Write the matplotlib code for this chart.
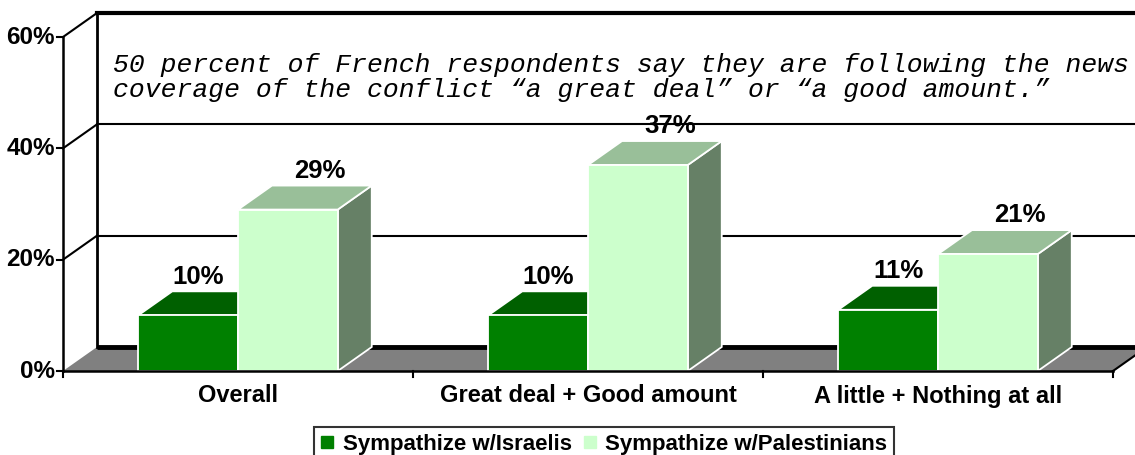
import matplotlib
matplotlib.use("Agg")
from matplotlib import pyplot as plt
from matplotlib.patches import Polygon
from matplotlib.lines import Line2D

# data
categories = ["Overall", "Great deal + Good amount", "A little + Nothing at all"]
israelis = [10, 10, 11]
palestinians = [29, 37, 21]
series_names = ["Sympathize w/Israelis", "Sympathize w/Palestinians"]
yticks = [0, 20, 40, 60]
tick_labels = ["0%", "20%", "40%", "60%"]
note_lines = ["50 percent of French respondents say they are following the news",
              "coverage of the conflict \u201ca great deal\u201d or \u201ca good amount.\u201d"]

# colours: front, top, side
col_isr = ["#008000", "#006000", "#004d00"]
col_pal = ["#ccffcc", "#99bf99", "#668066"]

W, H = 1135, 455
fig = plt.figure(figsize=(W / 100, H / 100), dpi=100)
ax = fig.add_axes([0, 0, 1, 1])

# one category = 350 px, one percent = 334/60 px, front axis origin at (63, 371) px
px_cat = 350.0
px_pct = 334.0 / 60
ax.set_xlim(-63 / px_cat, (W - 63) / px_cat)
ax.set_ylim(-(H - 371) / px_pct, 371 / px_pct)
ax.axis("off")

# depth of the 3D box in data units
dx = 34 / px_cat
dy = 24 / px_pct
ncat = len(categories)
xend = ncat + 0.5

# floor
ax.add_patch(Polygon([(0, 0), (ncat, 0), (ncat + dx, dy), (dx, dy)],
                     closed=True, facecolor="#808080", edgecolor="none", zorder=1))
ax.plot([dx, ncat + dx], [dy, dy], color="black", lw=3.5, zorder=2, solid_capstyle="butt")
ax.plot([ncat, ncat + dx], [0, dy], color="black", lw=1.5, zorder=2)

# back wall, grid lines and left wall diagonals
ax.plot([dx, dx], [dy, 60 + dy], color="black", lw=2, zorder=2)
ax.plot([dx, xend], [60 + dy, 60 + dy], color="black", lw=3, zorder=2)
for v in yticks[1:]:
    ax.plot([0, dx], [v, v + dy], color="black", lw=1.5, zorder=2)
    if v < 60:
        ax.plot([dx, xend], [v + dy, v + dy], color="black", lw=1.5, zorder=2)

# front axes
ax.plot([0, 0], [0, 60], color="black", lw=1.8, zorder=5)
ax.plot([0, ncat], [0, 0], color="black", lw=1.8, zorder=5)
for v, lab in zip(yticks, tick_labels):
    ax.plot([-6 / px_cat, 0], [v, v], color="black", lw=1.5, zorder=5)
    ax.text(-8 / px_cat, v, lab, ha="right", va="center", fontsize=17.5,
            fontweight="bold", family="Liberation Sans")
for i in range(ncat + 1):
    ax.plot([i, i], [0, -6 / px_pct], color="black", lw=1.5, zorder=5)
for i, c in enumerate(categories):
    ax.text(i + 0.5, -25 / px_pct, c, ha="center", va="center", fontsize=17,
            fontweight="bold", family="Liberation Sans")


def bar3d(x0, x1, h, cols):
    side = [(x1, 0), (x1 + dx, dy), (x1 + dx, h + dy), (x1, h)]
    top = [(x0, h), (x1, h), (x1 + dx, h + dy), (x0 + dx, h + dy)]
    front = [(x0, 0), (x1, 0), (x1, h), (x0, h)]
    for pts, c in [(side, cols[2]), (top, cols[1]), (front, cols[0])]:
        ax.add_patch(Polygon(pts, closed=True, facecolor=c, edgecolor="white",
                             lw=1.3, joinstyle="miter", zorder=3))


bw = 0.285
for i in range(ncat):
    xa = i + 0.215
    xb = xa + bw
    bar3d(xa, xb, israelis[i], col_isr)
    bar3d(xb, xb + bw, palestinians[i], col_pal)
    ax.text(xa + bw / 2 + 0.3 * dx, israelis[i] + dy + 1.4, f"{israelis[i]}%",
            ha="center", va="baseline", fontsize=18.5, fontweight="bold",
            family="Liberation Sans", zorder=6)
    ax.text(xb + bw / 2 + 0.95 * dx, palestinians[i] + dy + 1.4, f"{palestinians[i]}%",
            ha="center", va="baseline", fontsize=18.5, fontweight="bold",
            family="Liberation Sans", zorder=6)

# note text on the back wall
for k, line in enumerate(note_lines):
    ax.text(50 / px_cat, (299 - 25 * k) / px_pct, line, ha="left", va="baseline",
            fontsize=19, fontstyle="italic", family="Liberation Mono", zorder=6)

# legend
handles = [Line2D([], [], ls="none", marker="s", markersize=8, color=col_isr[0]),
           Line2D([], [], ls="none", marker="s", markersize=8, color=col_pal[0])]
leg = fig.legend(handles, series_names, loc="upper left", ncol=2,
                 bbox_to_anchor=(314 / W, 1 - 427 / H), borderaxespad=0,
                 prop={"family": "Liberation Sans", "weight": "bold", "size": 16},
                 frameon=True, fancybox=False, handlelength=0.6, handletextpad=0.4,
                 columnspacing=0.5, borderpad=0.3)
leg.get_frame().set_edgecolor("black")
leg.get_frame().set_linewidth(1.5)

fig.savefig("out.png", dpi=100)
